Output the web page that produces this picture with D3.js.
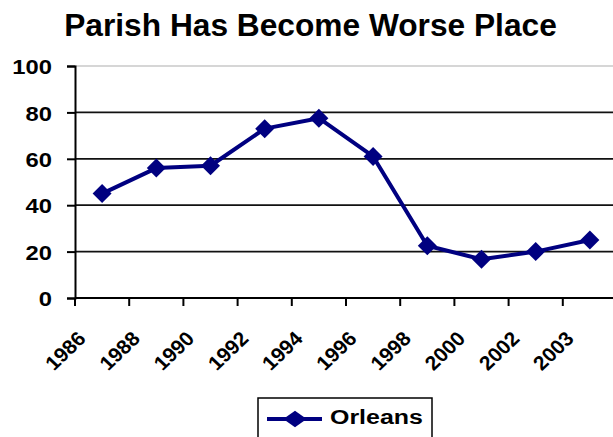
<!DOCTYPE html>
<html>
<head>
<meta charset="utf-8">
<script src="https://cdn.jsdelivr.net/npm/d3@7"></script>
<style>
  html, body { margin: 0; padding: 0; background: #fff; }
  svg { display: block; }
  text { font-family: "Liberation Sans", Arial, sans-serif; font-weight: bold; fill: #000; }
</style>
</head>
<body>
<svg id="chart" width="613" height="437"></svg>
<script>
// Survey share answering that the parish has become a worse place
const years = ["1986", "1988", "1990", "1992", "1994", "1996", "1998", "2000", "2002", "2003"];
const orleans = [45, 56, 57, 73, 77.5, 61, 22.5, 16.7, 20, 25];
const yTicks = [0, 20, 40, 60, 80, 100];
const seriesName = "Orleans";
const titleText = "Parish Has Become Worse Place";

const svg = d3.select("#chart");
const navy = "#000080";
const fontFamily = "'Liberation Sans', Arial, sans-serif";

const plot = { left: 75, top: 66, right: 617, bottom: 298 };

const x = d3.scaleBand().domain(years).range([plot.left, plot.right]).padding(0);
const y = d3.scaleLinear().domain([0, 100]).range([plot.bottom, plot.top]);
const cx = d => x(d) + x.bandwidth() / 2;

// Title
svg.append("text")
  .attr("x", 310.5).attr("y", 36)
  .attr("text-anchor", "middle")
  .style("font-size", "31.7px")
  .text(titleText);

// Plot frame top edge (light)
svg.append("line")
  .attr("x1", plot.left).attr("x2", plot.right)
  .attr("y1", y(100)).attr("y2", y(100))
  .attr("stroke", "#c8c8c8").attr("stroke-width", 1.5);

// Horizontal gridlines
svg.append("g").selectAll("line")
  .data(yTicks.filter(d => d > 0 && d < 100))
  .join("line")
  .attr("x1", plot.left).attr("x2", plot.right)
  .attr("y1", d => y(d)).attr("y2", d => y(d))
  .attr("stroke", "#111").attr("stroke-width", 1.8);

// Y axis
const yAxis = svg.append("g")
  .attr("transform", `translate(${plot.left},0)`)
  .call(d3.axisLeft(y).tickValues(yTicks).tickSize(8));
yAxis.select(".domain").attr("stroke", "#000").attr("stroke-width", 2);
yAxis.selectAll(".tick line").attr("stroke", "#000").attr("stroke-width", 2);
yAxis.selectAll(".tick text")
  .attr("x", null).attr("dy", null)
  .attr("transform", "translate(-23,7.6) scale(1.22,1)")
  .style("font-size", "19.5px")
  .style("font-family", fontFamily)
  .style("font-weight", "bold")
  .attr("fill", "#000");

// X axis: ticks between categories
const xAxisG = svg.append("g");
xAxisG.append("line")
  .attr("x1", plot.left).attr("x2", plot.right)
  .attr("y1", plot.bottom).attr("y2", plot.bottom)
  .attr("stroke", "#000").attr("stroke-width", 2);
xAxisG.selectAll("line.tk")
  .data(years)
  .join("line")
  .attr("class", "tk")
  .attr("x1", d => x(d)).attr("x2", d => x(d))
  .attr("y1", plot.bottom).attr("y2", plot.bottom + 8)
  .attr("stroke", "#000").attr("stroke-width", 2);
xAxisG.selectAll("text")
  .data(years)
  .join("text")
  .attr("text-anchor", "end")
  .attr("transform", d => `translate(${cx(d) - 15},${plot.bottom + 42}) scale(1.05,1) rotate(-45)`)
  .style("font-size", "20px")
  .text(d => d);

// Series line
const line = d3.line()
  .x((d, i) => cx(years[i]))
  .y(d => y(d));
svg.append("path")
  .datum(orleans)
  .attr("d", line)
  .attr("fill", "none")
  .attr("stroke", navy)
  .attr("stroke-width", 4)
  .attr("stroke-linejoin", "round");

// Diamond markers
const diamond = d3.symbol().type(d3.symbolSquare).size(180);
svg.append("g").selectAll("path")
  .data(orleans)
  .join("path")
  .attr("d", diamond)
  .attr("transform", (d, i) => `translate(${cx(years[i])},${y(d)}) rotate(45)`)
  .attr("fill", navy);

// Legend
const lg = svg.append("g");
lg.append("rect")
  .attr("x", 258).attr("y", 398)
  .attr("width", 174).attr("height", 50)
  .attr("fill", "#fff").attr("stroke", "#000").attr("stroke-width", 1.5);
lg.append("line")
  .attr("x1", 267).attr("x2", 322).attr("y1", 419).attr("y2", 419)
  .attr("stroke", navy).attr("stroke-width", 4);
lg.append("path")
  .attr("d", d3.symbol().type(d3.symbolSquare).size(140))
  .attr("transform", "translate(295,419) scale(1.4,1) rotate(45)")
  .attr("fill", navy);
lg.append("text")
  .attr("transform", "translate(330,424) scale(1.28,1)")
  .style("font-size", "19.5px")
  .text(seriesName);
</script>
</body>
</html>
